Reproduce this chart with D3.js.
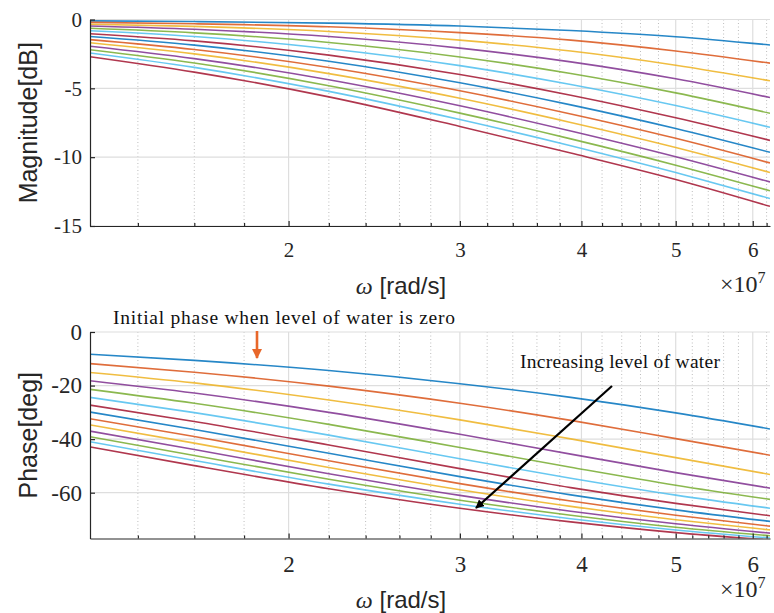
<!DOCTYPE html>
<html>
<head>
<meta charset="utf-8">
<script src="https://cdnjs.cloudflare.com/ajax/libs/d3/7.8.5/d3.min.js"></script>
<style>
	body { margin: 0; background: #fff; }
	.tick text { font-family: "Liberation Serif", serif; fill: #262626; }
	.axis path, .axis line { stroke: #262626; stroke-width: 1.2; }
	.ylabel, .xlabel { font-family: "Liberation Sans", Arial, sans-serif; fill: #262626; }
	.note { font-family: "Liberation Serif", serif; fill: #111; }
</style>
</head>
<body>
<div id="chart"></div>
<script>

//////////////////////////////////////////////////////////////
////////////////////////// Data //////////////////////////////
//////////////////////////////////////////////////////////////

// frequency points (rad/s) where the curves were read
var omega = [1.25e7, 1.6e7, 2.2e7, 3.0e7, 3.9e7, 5.0e7, 6.25e7];

// one row per water level, from zero water (top) to full (bottom)
var magnitudeDb = [
	[-0.10, -0.15, -0.26, -0.47, -0.80, -1.25, -1.85],
	[-0.21, -0.31, -0.53, -0.95, -1.50, -2.29, -3.17],
	[-0.34, -0.50, -0.87, -1.50, -2.29, -3.32, -4.45],
	[-0.47, -0.71, -1.24, -2.08, -3.08, -4.31, -5.67],
	[-0.64, -0.97, -1.67, -2.72, -3.92, -5.33, -6.81],
	[-0.82, -1.24, -2.12, -3.35, -4.72, -6.25, -7.83],
	[-1.03, -1.55, -2.59, -4.00, -5.50, -7.14, -8.78],
	[-1.24, -1.86, -3.03, -4.60, -6.20, -7.92, -9.65],
	[-1.46, -2.18, -3.49, -5.18, -6.86, -8.63, -10.42],
	[-1.69, -2.50, -3.93, -5.72, -7.48, -9.30, -11.12],
	[-1.94, -2.84, -4.38, -6.27, -8.10, -9.97, -11.80],
	[-2.20, -3.16, -4.81, -6.80, -8.67, -10.58, -12.44],
	[-2.43, -3.48, -5.22, -7.27, -9.17, -11.12, -13.00],
	[-2.70, -3.82, -5.62, -7.77, -9.70, -11.62, -13.57]
];

var phaseDeg = [
	[-8.3, -10.6, -14.4, -19.3, -24.4, -30.2, -36.2],
	[-11.8, -15.0, -20.2, -26.6, -33.0, -39.8, -46.0],
	[-15.1, -19.0, -25.4, -32.8, -39.9, -46.9, -53.2],
	[-18.2, -22.8, -30.0, -38.2, -45.6, -52.5, -58.3],
	[-21.4, -26.6, -34.5, -43.1, -50.5, -57.2, -62.5],
	[-24.4, -30.1, -38.5, -47.3, -54.6, -60.9, -65.8],
	[-27.3, -33.4, -42.2, -51.0, -58.1, -64.0, -68.6],
	[-29.9, -36.4, -45.3, -54.0, -60.8, -66.4, -70.7],
	[-32.4, -39.0, -48.1, -56.6, -63.1, -68.4, -72.5],
	[-34.7, -41.5, -50.6, -58.9, -65.1, -70.1, -73.9],
	[-37.0, -43.9, -52.9, -61.0, -66.9, -71.6, -75.1],
	[-39.1, -46.1, -55.0, -62.8, -68.4, -72.9, -76.1],
	[-41.0, -48.0, -56.8, -64.3, -69.7, -73.9, -76.9],
	[-42.9, -49.9, -58.5, -65.8, -70.9, -74.9, -77.7]
];

var xMajorTicks = [2e7, 3e7, 4e7, 5e7, 6e7];
var xTickLabels = ["2", "3", "4", "5", "6"];
var xMinorTicks = [1.4e7, 1.6e7, 1.8e7, 2.2e7, 2.4e7, 2.6e7, 2.8e7, 3.2e7, 3.4e7, 3.6e7, 3.8e7,
	4.2e7, 4.4e7, 4.6e7, 4.8e7, 5.2e7, 5.4e7, 5.6e7, 5.8e7, 6.2e7];
var magTicks = [0, -5, -10, -15];
var phaseTicks = [0, -20, -40, -60];

// matlab default line colours
var colors = ["#0072BD", "#D95319", "#EDB120", "#7E2F8E", "#77AC30", "#4DBEEE", "#A2142F"];

//////////////////////////////////////////////////////////////
///////////////////////// Set up /////////////////////////////
//////////////////////////////////////////////////////////////

var width = 774, height = 613;
var left = 90, right = 770;

var svg = d3.select("#chart").append("svg")
	.attr("width", width)
	.attr("height", height);

var x = d3.scaleLog()
	.domain([1.25e7, 6.25e7])
	.range([left, right]);

var defs = svg.append("defs");

function drawPanel(cfg) {
	var y = d3.scaleLinear().domain(cfg.domain).range([cfg.bottom, cfg.top]);
	var g = svg.append("g");

	//grid
	g.selectAll(".minorGrid")
		.data(xMinorTicks)
		.enter().append("line")
		.attr("x1", function(d) { return x(d); })
		.attr("x2", function(d) { return x(d); })
		.attr("y1", cfg.top)
		.attr("y2", cfg.bottom)
		.style("stroke", "#bdbdbd")
		.style("stroke-width", 1)
		.style("stroke-dasharray", "1,2.5");

	g.selectAll(".majorGridX")
		.data(xMajorTicks)
		.enter().append("line")
		.attr("x1", function(d) { return x(d); })
		.attr("x2", function(d) { return x(d); })
		.attr("y1", cfg.top)
		.attr("y2", cfg.bottom)
		.style("stroke", "#dedede")
		.style("stroke-width", 1.2);

	g.selectAll(".majorGridY")
		.data(cfg.ticks)
		.enter().append("line")
		.attr("x1", left)
		.attr("x2", right)
		.attr("y1", function(d) { return y(d); })
		.attr("y2", function(d) { return y(d); })
		.style("stroke", "#dedede")
		.style("stroke-width", 1.2);

	//lines, clipped to the axes
	defs.append("clipPath").attr("id", "clip-" + cfg.name)
		.append("rect")
		.attr("x", left).attr("y", cfg.top)
		.attr("width", right - left).attr("height", cfg.bottom - cfg.top);

	var line = d3.line()
		.x(function(d, i) { return x(omega[i]); })
		.y(function(d) { return y(d); })
		.curve(d3.curveMonotoneX);

	g.append("g")
		.attr("clip-path", "url(#clip-" + cfg.name + ")")
		.selectAll("path")
		.data(cfg.data)
		.enter().append("path")
		.attr("d", line)
		.style("fill", "none")
		.style("stroke", function(d, i) { return colors[i % colors.length]; })
		.style("stroke-width", 1.6)
		.style("opacity", 0.85);

	//axes
	var xAxis = d3.axisBottom(x)
		.tickValues(xMajorTicks)
		.tickFormat(function(d, i) { return xTickLabels[i]; })
		.tickSizeInner(-5)
		.tickSizeOuter(0)
		.tickPadding(cfg.xPad);

	g.append("g")
		.attr("class", "axis")
		.attr("transform", "translate(0," + cfg.bottom + ")")
		.call(xAxis)
		.call(function(a) { a.selectAll("text").style("font-size", cfg.tickFont + "px"); });

	g.append("g")
		.attr("class", "axis")
		.attr("transform", "translate(0," + cfg.bottom + ")")
		.call(d3.axisBottom(x).tickValues(xMinorTicks).tickFormat("").tickSizeInner(-3).tickSizeOuter(0))
		.select(".domain").remove();

	var yAxis = d3.axisLeft(y)
		.tickValues(cfg.ticks)
		.tickFormat(function(d) { return d === 0 ? "0" : "-" + Math.abs(d); })
		.tickSizeInner(-5)
		.tickSizeOuter(0)
		.tickPadding(8);

	g.append("g")
		.attr("class", "axis")
		.attr("transform", "translate(" + left + ",0)")
		.call(yAxis)
		.call(function(a) { a.selectAll("text").style("font-size", cfg.tickFont + "px"); });

	//axis titles
	g.append("text")
		.attr("class", "ylabel")
		.attr("transform", "translate(37," + ((cfg.top + cfg.bottom) / 2) + ") rotate(-90)")
		.style("text-anchor", "middle")
		.style("font-size", "25px")
		.text(cfg.label);

	var xl = g.append("text")
		.attr("class", "xlabel")
		.attr("x", 401)
		.attr("y", cfg.xLabelY)
		.style("text-anchor", "middle")
		.style("font-size", "24px");
	xl.append("tspan")
		.style("font-family", "'Liberation Serif', serif")
		.style("font-style", "italic")
		.text("\u03c9");
	xl.append("tspan").text(" [rad/s]");

	var ex = g.append("text")
		.attr("class", "note")
		.attr("x", 720)
		.attr("y", cfg.expY)
		.style("font-size", "24px")
		.style("fill", "#262626");
	ex.append("tspan").text("\u00d710");
	ex.append("tspan").attr("dy", -9).style("font-size", "16px").text("7");

	return y;
}

drawPanel({
	name: "mag", top: 19.5, bottom: 226, domain: [-15, 0],
	ticks: magTicks, data: magnitudeDb, label: "Magnitude[dB]",
	tickFont: 21, xPad: 16, xLabelY: 294, expY: 292
});

drawPanel({
	name: "phase", top: 332, bottom: 538.5, domain: [-77.1, 0],
	ticks: phaseTicks, data: phaseDeg, label: "Phase[deg]",
	tickFont: 23, xPad: 17, xLabelY: 608, expY: 597
});

//////////////////////////////////////////////////////////////
////////////////////// Annotations ///////////////////////////
//////////////////////////////////////////////////////////////

function arrowHead(id, color) {
	defs.append("marker")
		.attr("id", id)
		.attr("viewBox", "0 0 10 10")
		.attr("refX", 9).attr("refY", 5)
		.attr("markerWidth", 4).attr("markerHeight", 4)
		.attr("markerUnits", "strokeWidth")
		.attr("orient", "auto")
		.append("path")
		.attr("d", "M0,0 L10,5 L0,10 Z")
		.style("fill", color);
}
arrowHead("headOrange", "#E8672A");
arrowHead("headBlack", "#000");

svg.append("text")
	.attr("class", "note")
	.attr("x", 113)
	.attr("y", 324)
	.attr("textLength", 342)
	.attr("lengthAdjust", "spacing")
	.style("font-size", "19.5px")
	.text("Initial phase when level of water is zero");

svg.append("line")
	.attr("x1", 257).attr("y1", 331)
	.attr("x2", 257).attr("y2", 358)
	.attr("marker-end", "url(#headOrange)")
	.style("stroke", "#E8672A")
	.style("stroke-width", 2.6);

svg.append("text")
	.attr("class", "note")
	.attr("x", 520)
	.attr("y", 368)
	.attr("textLength", 200)
	.attr("lengthAdjust", "spacing")
	.style("font-size", "19.5px")
	.text("Increasing level of water");

svg.append("line")
	.attr("x1", 612).attr("y1", 386)
	.attr("x2", 476).attr("y2", 508)
	.attr("marker-end", "url(#headBlack)")
	.style("stroke", "#000")
	.style("stroke-width", 2.2);

</script>
</body>
</html>
